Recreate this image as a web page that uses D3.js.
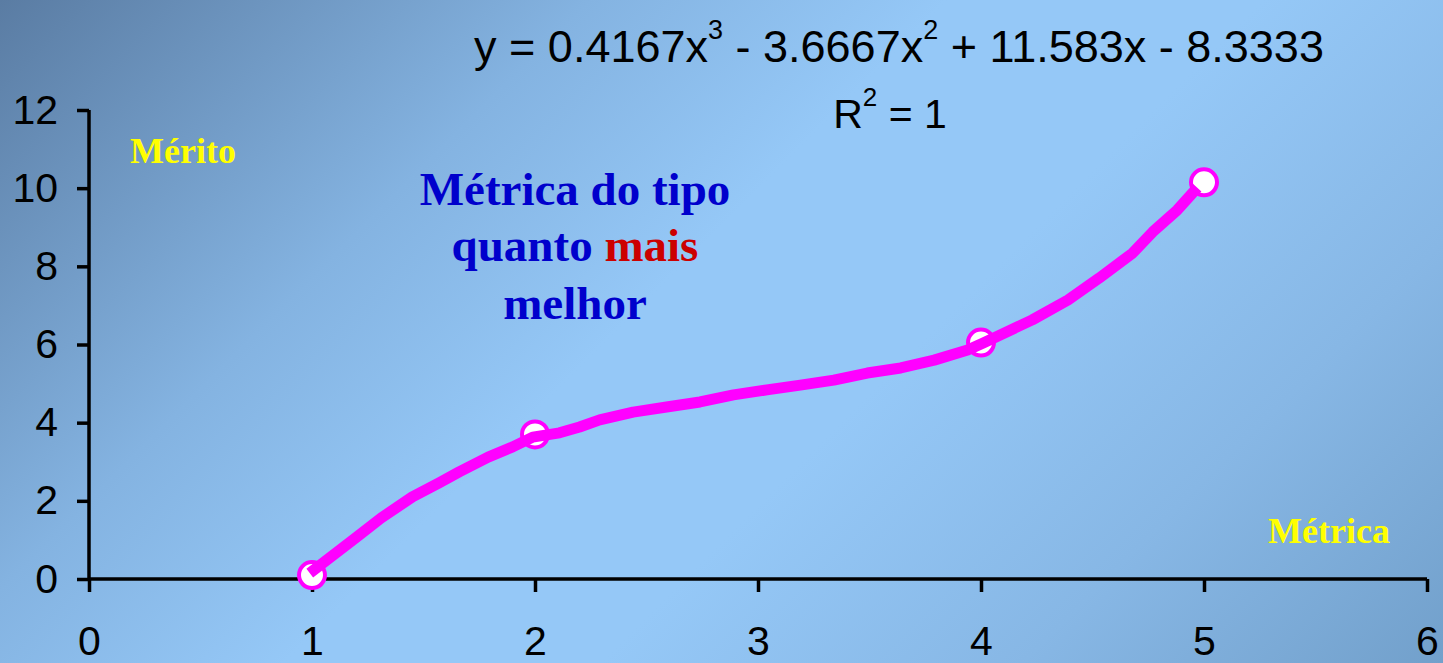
<!DOCTYPE html>
<html>
<head>
<meta charset="utf-8">
<script src="https://cdn.jsdelivr.net/npm/d3@7"></script>
<style>
  html, body { margin: 0; padding: 0; background: #95c8f7; }
  svg { display: block; }
</style>
</head>
<body>
<svg id="chart" width="1443" height="663"></svg>
<script>
// ---- data ----
const xTicks = [0, 1, 2, 3, 4, 5, 6];
const yTicks = [0, 2, 4, 6, 8, 10, 12];
const markerX = [1, 2, 4, 5];
const markerY = [0.1, 3.7, 6.05, 10.15];
// polynomial trendline
const trendX = [0.99, 1.20, 1.31, 1.45, 1.57, 1.66, 1.79, 1.90, 1.99, 2.11, 2.20, 2.29, 2.44, 2.59, 2.74, 2.89, 3.04, 3.19, 3.34, 3.49, 3.64, 3.79, 3.94, 4.01, 4.23, 4.39, 4.53, 4.68, 4.77, 4.88, 4.97];
const trendY = [0.15, 1.07, 1.56, 2.10, 2.46, 2.74, 3.12, 3.38, 3.63, 3.74, 3.89, 4.07, 4.27, 4.40, 4.53, 4.71, 4.84, 4.96, 5.09, 5.27, 5.40, 5.60, 5.86, 6.04, 6.63, 7.14, 7.70, 8.34, 8.88, 9.44, 10.01];
const eqParts = [["y = 0.4167x", "3"], [" - 3.6667x", "2"], [" + 11.583x - 8.3333", null]];
const r2Parts = [["R", "2"], [" = 1", null]];
const yTitle = "Mérito";
const xTitle = "Métrica";
const noteLines = [[["Métrica do tipo", "blue"]], [["quanto ", "blue"], ["mais", "red"]], [["melhor", "blue"]]];

// ---- setup ----
const W = 1443, H = 663;
const svg = d3.select("#chart");
const defs = svg.append("defs");
const grad = defs.append("linearGradient")
  .attr("id", "bg").attr("gradientUnits", "userSpaceOnUse")
  .attr("x1", 0).attr("y1", 0).attr("x2", 1053).attr("y2", 1053);
[[0, "#5a7ca3"], [0.28, "#84b3e1"], [0.45, "#95c8f7"], [0.6, "#95c8f7"], [0.8, "#87b7e5"], [1, "#72a0cb"]]
  .forEach(([o, c]) => grad.append("stop").attr("offset", o).attr("stop-color", c));
svg.append("rect").attr("width", W).attr("height", H).attr("fill", "url(#bg)");

const x = d3.scaleLinear().domain([0, 6]).range([89, 1427]);
const y = d3.scaleLinear().domain([0, 12]).range([579, 110]);

// axes
const yAxis = svg.append("g").attr("transform", `translate(${x(0)},0)`)
  .call(d3.axisLeft(y).tickValues(yTicks).tickSize(12).tickPadding(19).tickFormat(d3.format("d")));
const xAxis = svg.append("g").attr("transform", `translate(0,${y(0)})`)
  .call(d3.axisBottom(x).tickValues(xTicks).tickSize(13).tickPadding(34).tickFormat(d3.format("d")));
[yAxis, xAxis].forEach(g => {
  g.select(".domain").attr("stroke", "#000").attr("stroke-width", 3.5).attr("fill", "none");
  g.selectAll(".tick line").attr("stroke", "#000").attr("stroke-width", 3.5);
  g.selectAll(".tick text").attr("fill", "#000")
    .style("font-family", "Liberation Sans, Arial, sans-serif").style("font-size", "41px");
});
yAxis.select(".domain").attr("d", `M0,${y(12)}V${y(0)}`);
xAxis.select(".domain").attr("d", `M${x(0)},0H${x(6)}`);

// markers (drawn below the trendline)
const pts = markerX.map((d, i) => [d, markerY[i]]);
svg.append("g").selectAll("circle").data(pts).join("circle")
  .attr("cx", d => x(d[0])).attr("cy", d => y(d[1])).attr("r", 13)
  .attr("fill", "#fff").attr("stroke", "#ff00ff").attr("stroke-width", 4);

// trendline
const tpts = trendX.map((d, i) => [d, trendY[i]]);
svg.append("path").datum(tpts)
  .attr("d", d3.line().x(d => x(d[0])).y(d => y(d[1])).curve(d3.curveLinear))
  .attr("fill", "none").attr("stroke", "#ff00ff").attr("stroke-width", 11)
  .attr("stroke-linejoin", "round").attr("stroke-linecap", "butt");

// equation text
function richText(parts, cx, baseline, size, supSize, supRise) {
  const t = svg.append("text").attr("x", cx).attr("y", baseline).attr("text-anchor", "middle")
    .style("font-family", "Liberation Sans, Arial, sans-serif").style("font-size", size + "px").attr("fill", "#000");
  let pending = 0;
  parts.forEach(([main, sup]) => {
    const m = t.append("tspan").text(main);
    if (pending) { m.attr("dy", pending); pending = 0; }
    if (sup) {
      t.append("tspan").attr("dy", -supRise).style("font-size", supSize + "px").text(sup);
      pending = supRise;
    }
  });
  return t;
}
richText(eqParts, 899, 62, 45, 27, 23);
richText(r2Parts, 890, 128, 41, 26, 22);

// titles
const serif = "Liberation Serif, 'Times New Roman', serif";
svg.append("text").attr("x", 130).attr("y", 163).text(yTitle)
  .style("font-family", serif).style("font-weight", "bold").style("font-size", "36px").attr("fill", "#ffff00");
svg.append("text").attr("x", 1268).attr("y", 543).text(xTitle)
  .style("font-family", serif).style("font-weight", "bold").style("font-size", "36px").attr("fill", "#ffff00");

// annotation
const colors = { blue: "#0000cc", red: "#cc0000" };
const lineBase = [205, 261, 319];
noteLines.forEach((segs, i) => {
  const t = svg.append("text").attr("x", 575).attr("y", lineBase[i]).attr("text-anchor", "middle")
    .style("font-family", serif).style("font-weight", "bold").style("font-size", "47px");
  segs.forEach(([s, c]) => t.append("tspan").attr("fill", colors[c]).text(s));
});
</script>
</body>
</html>
